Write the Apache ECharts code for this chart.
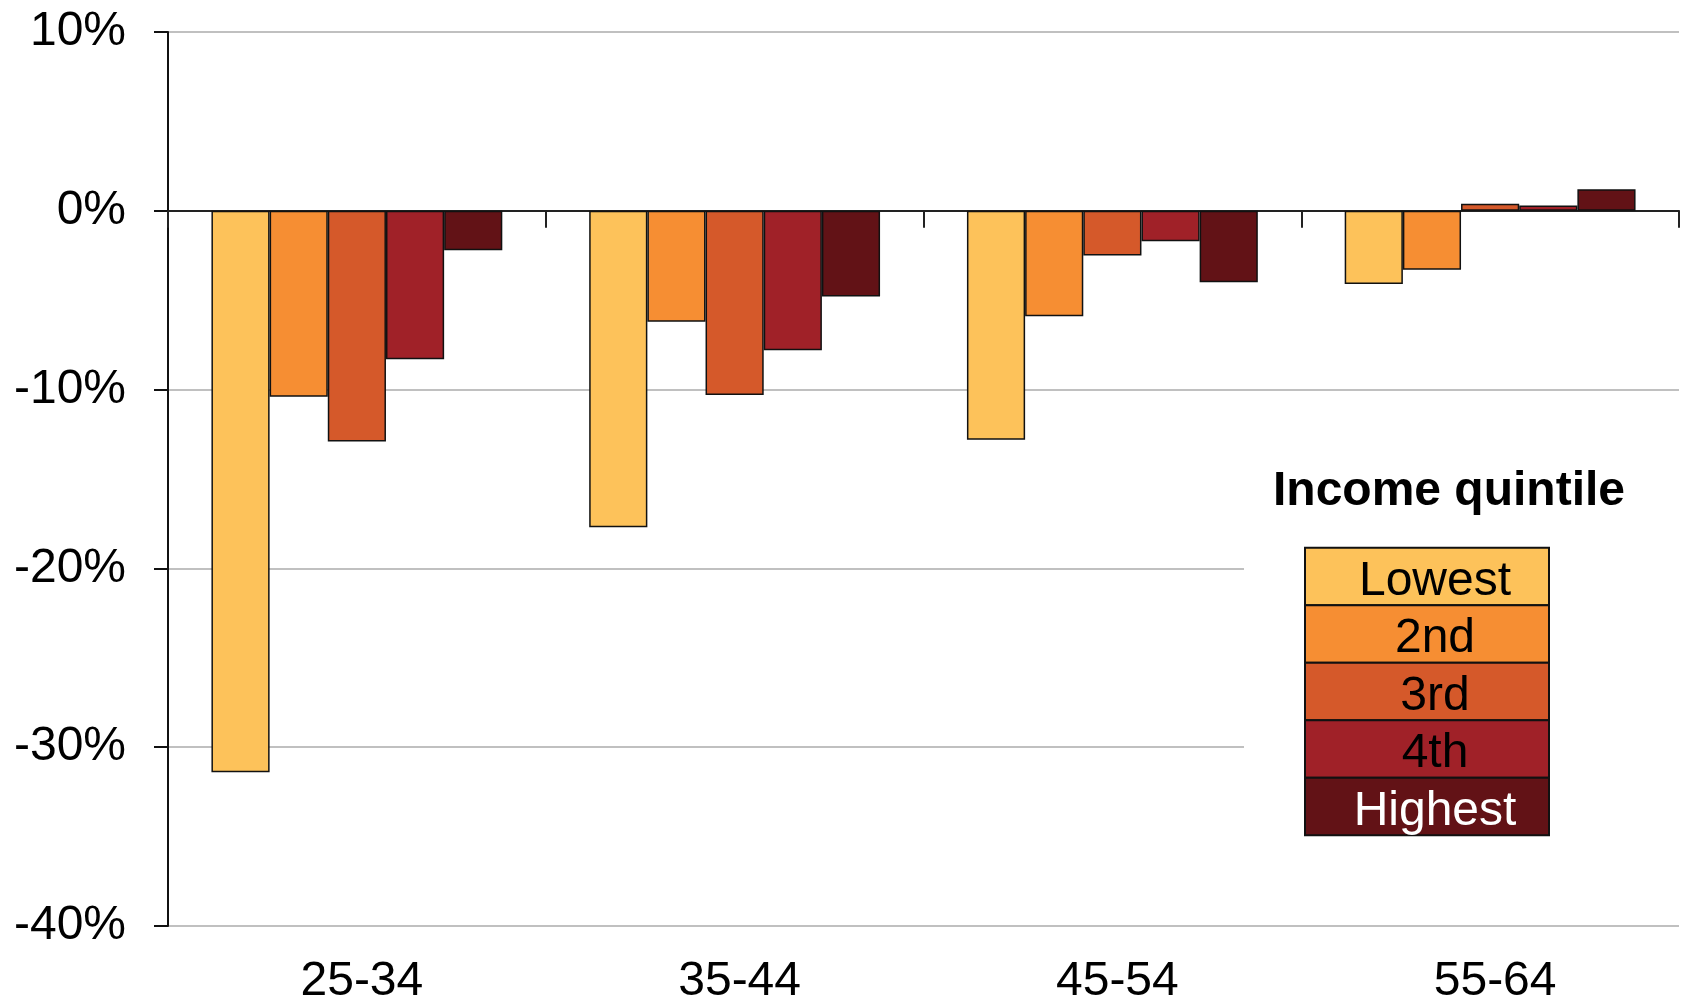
<!DOCTYPE html>
<html>
<head>
<meta charset="utf-8">
<script src="https://cdn.jsdelivr.net/npm/echarts@6/dist/echarts.min.js"></script>
<style>
html,body{margin:0;padding:0;background:#fff;overflow:hidden;width:1683px;height:1001px;}
#chart{width:1683px;height:1001px;}
</style>
</head>
<body>
<div id="chart"></div>
<script>
var categories = ['25-34', '35-44', '45-54', '55-64'];
var seriesNames = ['Lowest', '2nd', '3rd', '4th', 'Highest'];
var colors = ['#FDC25A', '#F68E33', '#D5592A', '#A02128', '#621216'];
var labelColors = ['#000', '#000', '#000', '#000', '#fff'];
var lowest  = [-31.4, -17.7, -12.8, -4.1];
var second  = [-10.4, -6.2, -5.9, -3.3];
var third   = [-12.9, -10.3, -2.5, 0.4];
var fourth  = [-8.3, -7.8, -1.7, 0.3];
var highest = [-2.2, -4.8, -4.0, 1.2];
var values = [lowest, second, third, fourth, highest];
var legendTitle = 'Income quintile';

var FONT = '"Liberation Sans", Arial, sans-serif';
var chart = echarts.init(document.getElementById('chart'));

var series = seriesNames.map(function (n, i) {
  return {
    name: n, type: 'bar', xAxisIndex: 0, yAxisIndex: 0,
    data: values[i],
    barGap: '0%', barCategoryGap: '23%',
    itemStyle: { color: colors[i], borderColor: '#111', borderWidth: 1.5 }
  };
});

var graphics = [{
  type: 'rect', z: 5,
  shape: { x: 1244, y: 420, width: 439, height: 480 },
  style: { fill: '#fff' }
}, {
  type: 'text', z: 6, x: 1449, y: 492,
  style: { text: legendTitle, font: 'bold 48px ' + FONT, fill: '#000', textAlign: 'center', textVerticalAlign: 'middle' }
}];
var rowH = 57.5, boxX = 1305, boxY = 547.7, boxW = 244;
seriesNames.forEach(function (n, i) {
  graphics.push({
    type: 'rect', z: 6,
    shape: { x: boxX, y: boxY + i * rowH, width: boxW, height: rowH },
    style: { fill: colors[i], stroke: '#111', lineWidth: 2 }
  });
  graphics.push({
    type: 'text', z: 7, x: 1435, y: boxY + i * rowH + rowH / 2 + 5,
    style: { text: n, font: '48px ' + FONT, fill: labelColors[i], textAlign: 'center', textVerticalAlign: 'middle' }
  });
});

chart.setOption({
  animation: false,
  backgroundColor: '#fff',
  grid: { left: 168, right: 4, top: 32, bottom: 75, containLabel: false, outerBoundsMode: 'none' },
  xAxis: [{
    type: 'category', data: categories,
    axisLine: { onZero: true, lineStyle: { color: '#222', width: 2 } },
    axisTick: { show: true, inside: false, length: 17, alignWithLabel: false, lineStyle: { color: '#222', width: 2 } },
    axisLabel: { show: false },
    splitLine: { show: false }
  }, {
    type: 'category', data: categories, position: 'bottom',
    axisLine: { show: false }, axisTick: { show: false },
    axisLabel: { show: true, fontSize: 48, fontFamily: FONT, color: '#000', margin: 32, padding: [0, 0, 0, 10] }
  }],
  yAxis: {
    type: 'value', min: -40, max: 10, interval: 10,
    axisLine: { show: true, lineStyle: { color: '#111', width: 2 } },
    axisTick: { show: true, length: 14, lineStyle: { color: '#111', width: 2 } },
    axisLabel: { fontSize: 48, fontFamily: FONT, color: '#000', margin: 42, formatter: '{value}%' },
    splitLine: { show: true, lineStyle: { color: '#C0C0C0', width: 2 } }
  },
  series: series,
  graphic: graphics
});
</script>
</body>
</html>
